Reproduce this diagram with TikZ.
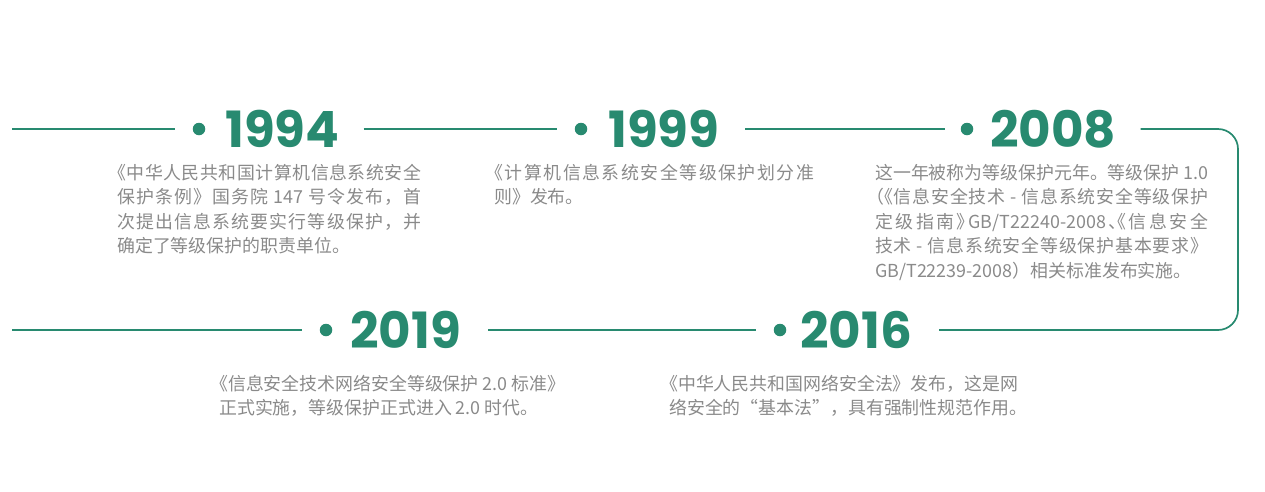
\documentclass[tikz,border=0pt]{standalone}
\usepackage{fontspec}
\newfontfamily\cjk{Noto Sans CJK SC}
\newfontfamily\yearfont{Poppins}
\definecolor{teal}{RGB}{40,138,112}
\definecolor{txtgray}{RGB}{138,138,138}
\def\jstop{\jstop}
\newcommand\jline[2]{\hbox to #1{\jfirst#2\jstop}}
\def\jfirst#1{#1\jspread}
\def\jspread#1{\def\jtmp{#1}\ifx\jtmp\jstop\else\hskip 0pt plus 1fil\relax#1\expandafter\jspread\fi}
\newcommand\hq[1]{{\addfontfeature{RawFeature=+halt}#1}}
\tikzset{
  tl/.style={draw=teal, line width=1.7pt},
  yeardot/.style={circle, fill=teal, inner sep=0pt, minimum size=12.5pt},
  yearlabel/.style={anchor=base west, inner sep=0pt, text=teal, font=\yearfont\bfseries\fontsize{50pt}{50pt}\selectfont},
  desc/.style={anchor=north west, inner sep=0pt, align=left, text=txtgray, font=\cjk\fontsize{17.9pt}{24.5pt}\selectfont},
}
\begin{document}
\begin{tikzpicture}[x=1pt, y=-1pt]
\useasboundingbox (0,0) rectangle (1265,491);
\coordinate (l1) at (12,129);
\coordinate (l2) at (12,330);
\coordinate (ctop) at (1238,129);
\coordinate (cbot) at (1238,330);
\node[yeardot] (d1994) at (199,129) {};
\node[yearlabel] (y1994) at (225,147) {1994};
\node[yeardot] (d1999) at (581,129) {};
\node[yearlabel] (y1999) at (608,147) {1999};
\node[yeardot] (d2008) at (967,129) {};
\node[yearlabel] (y2008) at (990,147) {2008};
\node[yeardot] (d2019) at (326,330) {};
\node[yearlabel] (y2019) at (350,348) {2019};
\node[yeardot] (d2016) at (780,330) {};
\node[yearlabel] (y2016) at (800,348) {2016};
% connectors
\draw[tl, shorten >=18pt] (l1) -- (d1994);
\draw[tl, shorten <=24pt, shorten >=18pt] (y1994.east |- d1994) -- (d1999);
\draw[tl, shorten <=26pt, shorten >=16pt] (y1999.east |- d1999) -- (d2008);
\draw[tl, rounded corners=20pt, shorten <=24pt, shorten >=27pt] (y2008.east |- d2008) -- (ctop) -- (cbot) -- (y2016.east |- d2016);
\draw[tl, shorten <=18pt, shorten >=27pt] (d2016) -- (y2019.east |- d2019);
\draw[tl, shorten <=18pt] (d2019) -- (l2);
% descriptions
\node[desc] (t1994) at (117,164) {%
\jline{304pt}{{\hq{《}}中华人民共和国计算机信息系统安全}\\
\jline{304pt}{保护条例》国务院{ 147 }号令发布，首}\\
\jline{304pt}{次提出信息系统要实行等级保护，并}\\
确定了等级保护的职责单位。};
\node[desc] (t1999) at (494,164) {%
\jline{320pt}{{\hq{《}}计算机信息系统安全等级保护划分准}\\
则》发布。};
\node[desc] (t2008) at (875,164) {%
\jline{333pt}{这一年被称为等级保护元年。等级保护{ 1.0}}\\
\jline{333pt}{{\hq{（《}}信息安全技术{ - }信息系统安全等级保护}\\
\jline{333pt}{定级指南{\hq{》}}{GB/T22240-2008}{\hq{、《}}信息安全}\\
\jline{333pt}{技术{ - }信息系统安全等级保护基本要求》}\\
GB/T22239-2008）相关标准发布实施。};
\node[desc] (t2019) at (219,375) {%
{\hq{《}}信息安全技术网络安全等级保护 2.0 标准》\\
正式实施，等级保护正式进入 2.0 时代。};
\node[desc] (t2016) at (669,375) {%
{\hq{《}}中华人民共和国网络安全法》发布，这是网\\
络安全的“基本法”，具有强制性规范作用。};
\end{tikzpicture}
\end{document}
